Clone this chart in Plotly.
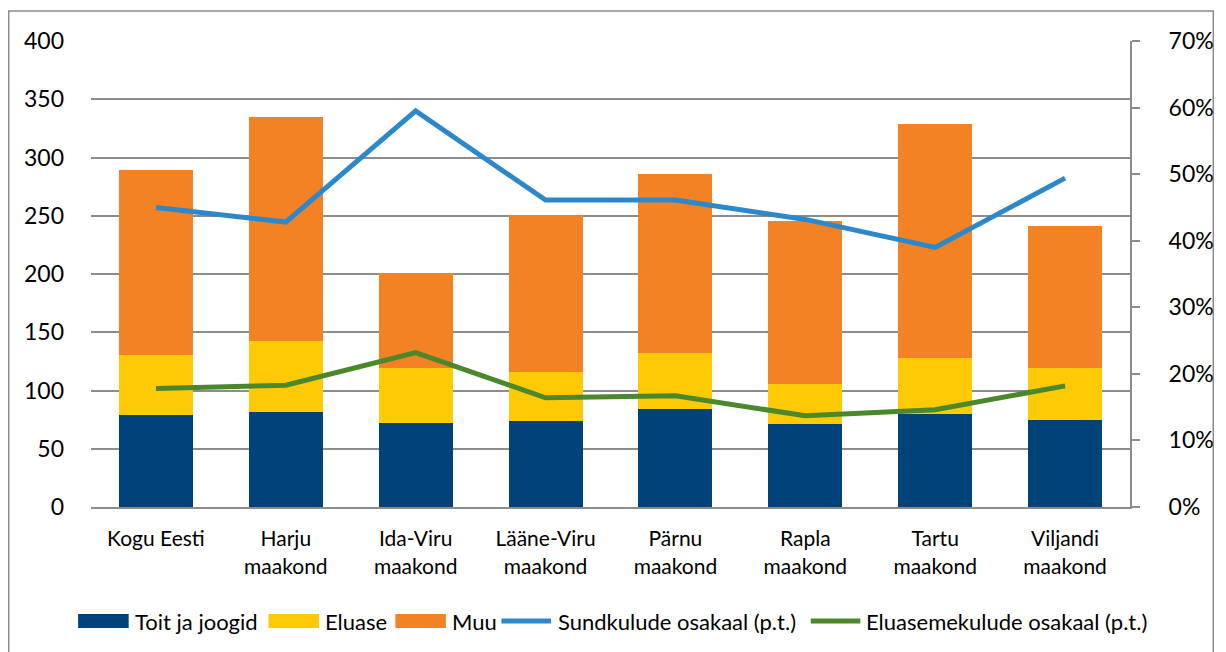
import plotly.graph_objects as go

categories = ["Kogu Eesti", "Harju<br>maakond", "Ida-Viru<br>maakond", "Lääne-Viru<br>maakond",
              "Pärnu<br>maakond", "Rapla<br>maakond", "Tartu<br>maakond", "Viljandi<br>maakond"]

toit = [79, 81.5, 72, 74, 84, 71, 80, 75]
eluase = [51.5, 61, 47, 42, 48, 34.5, 48, 44]
muu = [158.5, 192.5, 82, 134.5, 154, 140, 201, 122]

sund_share = [0.450, 0.428, 0.595, 0.461, 0.461, 0.432, 0.390, 0.494]
eluase_share = [0.178, 0.183, 0.232, 0.164, 0.167, 0.137, 0.146, 0.182]

series_names = ["Toit ja joogid", "Eluase", "Muu", "Sundkulude osakaal (p.t.)", "Eluasemekulude osakaal (p.t.)"]
colors = ["#00427A", "#FDCA05", "#F28224", "#2B88CB", "#4B872B"]

FONT = "Lato"
GRID = "#8c8c8c"

fig = go.Figure()
for vals, nm, col in zip([toit, eluase, muu], series_names[:3], colors[:3]):
    fig.add_trace(go.Bar(x=categories, y=vals, name=nm, marker_color=col, marker_line_width=0,
                         showlegend=False))
for vals, nm, col in zip([sund_share, eluase_share], series_names[3:], colors[3:]):
    fig.add_trace(go.Scatter(x=categories, y=vals, name=nm, mode="lines", showlegend=False,
                             line=dict(color=col, width=5), yaxis="y2"))

# Manual legend (page pixel positions converted to paper coords)
PL, PT, PW, PH = 91, 41, 1048, 466  # plot area on page


def px(x):
    return (x - PL) / PW


def py(y):
    return (PT + PH - y) / PH


legend_items = [  # (swatch x0, swatch x1, text x, kind)
    (78, 129, 133, "bar"),
    (270, 321, 325, "bar"),
    (398, 449, 453, "bar"),
    (505, 555, 560, "line"),
    (817, 867, 871, "line"),
]
shapes = []
annotations = []
LY = 621
for (x0, x1, tx, kind), nm, col in zip(legend_items, series_names, colors):
    if kind == "bar":
        shapes.append(dict(type="rect", xref="paper", yref="paper", x0=px(x0), x1=px(x1),
                           y0=py(LY + 7), y1=py(LY - 7), fillcolor=col, line=dict(width=0)))
    else:
        shapes.append(dict(type="line", xref="paper", yref="paper", x0=px(x0), x1=px(x1),
                           y0=py(LY), y1=py(LY), line=dict(color=col, width=5)))
    annotations.append(dict(text=nm, xref="paper", yref="paper", x=px(tx), y=py(LY),
                            xanchor="left", yanchor="middle", showarrow=False,
                            font=dict(size=22, family=FONT, color="#000000")))

shapes.append(dict(type="rect", xref="paper", yref="paper", x0=px(8), x1=px(1223), y0=py(680), y1=py(11),
                   line=dict(color="#8c8c8c", width=1.5), fillcolor="rgba(0,0,0,0)", layer="below"))

fig.update_layout(
    width=1218, height=644,
    margin=dict(l=83, r=87, t=33, b=145),
    paper_bgcolor="white", plot_bgcolor="white",
    barmode="stack", bargap=0.43,
    font=dict(family=FONT, size=20, color="#000000"),
    showlegend=False,
    xaxis=dict(showline=True, linecolor=GRID, linewidth=2, ticks="", showgrid=False,
               tickfont=dict(size=21), ticklabelstandoff=12),
    yaxis=dict(range=[0, 400], dtick=50, showgrid=True, gridcolor=GRID, gridwidth=2,
               showline=False, ticks="", zeroline=False, tickfont=dict(size=23), ticklabelstandoff=26),
    yaxis2=dict(range=[0, 0.7], dtick=0.1, tickformat=".0%", overlaying="y", side="right",
                showgrid=False, showline=True, linecolor=GRID, linewidth=2, ticks="outside",
                ticklen=8, tickwidth=2, tickcolor=GRID, zeroline=False, tickfont=dict(size=23),
                ticklabelstandoff=24),
    shapes=shapes,
    annotations=annotations,
)

fig.write_html("out.html")
